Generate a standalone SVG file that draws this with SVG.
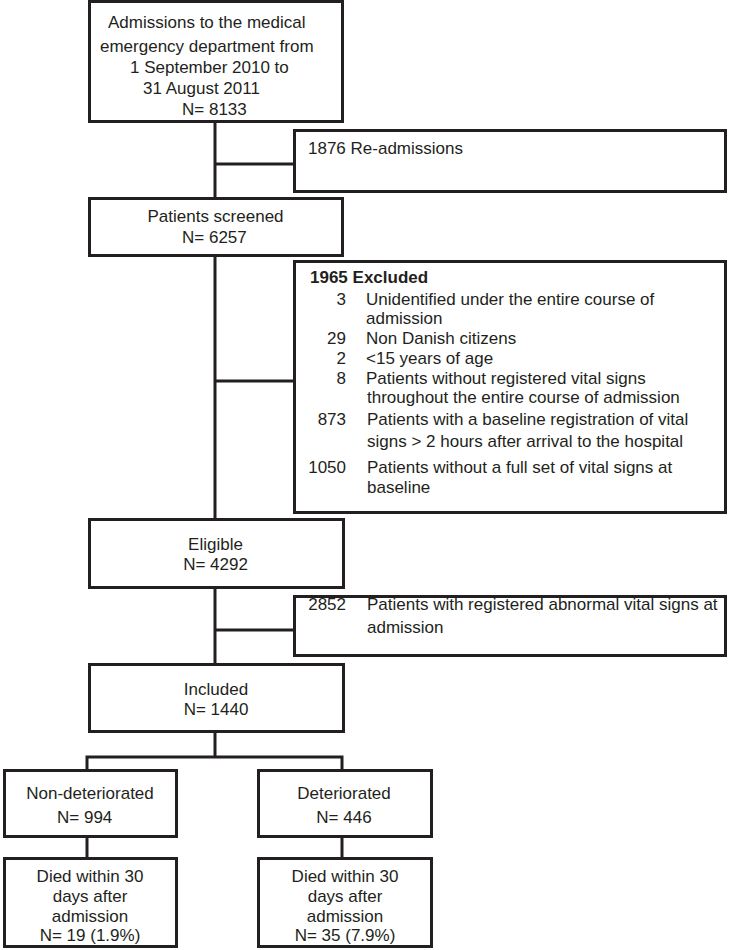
<svg xmlns="http://www.w3.org/2000/svg" width="729" height="950" viewBox="0 0 729 950">
<style>
  .box { fill: #ffffff; stroke: #231f20; stroke-width: 3; }
  .conn { fill: none; stroke: #231f20; stroke-width: 3; }
  text { font-family: "Liberation Sans", Arial, sans-serif; font-size: 17px; fill: #231f20; }
  .c { text-anchor: middle; }
  .r { text-anchor: end; }
  .b { font-weight: bold; }
</style>
<rect x="0" y="0" width="729" height="950" fill="#ffffff"/>
<g id="connectors">
  <line class="conn" x1="215" y1="122" x2="215" y2="198"/>
  <line class="conn" x1="215" y1="164" x2="294" y2="164"/>
  <line class="conn" x1="215" y1="256" x2="215" y2="519"/>
  <line class="conn" x1="215" y1="381" x2="294" y2="381"/>
  <line class="conn" x1="215" y1="588" x2="215" y2="664"/>
  <line class="conn" x1="215" y1="630" x2="294" y2="630"/>
  <line class="conn" x1="215" y1="732" x2="215" y2="757"/>
  <path class="conn" d="M87,770 V757 H342 V770"/>
  <line class="conn" x1="87" y1="837" x2="87" y2="858"/>
  <line class="conn" x1="342" y1="837" x2="342" y2="858"/>
</g>
<g id="admissions">
  <rect class="box" x="89.5" y="1.5" width="253" height="120"/>
  <text x="108" y="28">Admissions to the medical</text>
  <text x="100" y="52">emergency department from</text>
  <text x="130" y="73">1 September 2010 to</text>
  <text x="143" y="94">31 August 2011</text>
  <text x="182" y="115">N= 8133</text>
</g>
<g id="readmissions">
  <rect class="box" x="294.5" y="130.5" width="431" height="61"/>
  <text x="308" y="154">1876 Re-admissions</text>
</g>
<g id="screened">
  <rect class="box" x="89.5" y="198.5" width="253" height="57"/>
  <text class="c" x="215.5" y="222">Patients screened</text>
  <text x="182" y="243">N= 6257</text>
</g>
<g id="excluded">
  <rect class="box" x="294.5" y="261.5" width="431" height="251"/>
  <text class="b" x="310" y="283">1965 Excluded</text>
  <text class="r" x="346" y="305">3</text>
  <text x="366" y="305">Unidentified under the entire course of</text>
  <text x="366" y="324">admission</text>
  <text class="r" x="346" y="344">29</text>
  <text x="366" y="344">Non Danish citizens</text>
  <text class="r" x="346" y="364">2</text>
  <text x="366" y="364">&lt;15 years of age</text>
  <text class="r" x="346" y="384">8</text>
  <text x="366" y="384">Patients without registered vital signs</text>
  <text x="367" y="403">throughout the entire course of admission</text>
  <text class="r" x="346" y="425">873</text>
  <text x="367" y="425">Patients with a baseline registration of vital</text>
  <text x="367" y="447">signs &gt; 2 hours after arrival to the hospital</text>
  <text class="r" x="346" y="473">1050</text>
  <text x="367" y="473">Patients without a full set of vital signs at</text>
  <text x="367" y="493">baseline</text>
</g>
<g id="eligible">
  <rect class="box" x="89.5" y="519.5" width="254" height="68"/>
  <text class="c" x="215.5" y="550">Eligible</text>
  <text class="c" x="215.5" y="570">N= 4292</text>
</g>
<g id="abnormal">
  <rect class="box" x="294.5" y="596.5" width="431" height="59"/>
  <text class="r" x="346" y="610">2852</text>
  <text x="367" y="610">Patients with registered abnormal vital signs at</text>
  <text x="367" y="633">admission</text>
</g>
<g id="included">
  <rect class="box" x="89.5" y="664.5" width="254" height="67"/>
  <text class="c" x="216" y="695">Included</text>
  <text class="c" x="216" y="715">N= 1440</text>
</g>
<g id="nondeteriorated">
  <rect class="box" x="4.5" y="770.5" width="172" height="66"/>
  <text class="c" x="90" y="799">Non-deteriorated</text>
  <text x="57" y="823">N= 994</text>
</g>
<g id="deteriorated">
  <rect class="box" x="258.5" y="770.5" width="173" height="66"/>
  <text class="c" x="344" y="799">Deteriorated</text>
  <text class="c" x="344" y="823">N= 446</text>
</g>
<g id="died1">
  <rect class="box" x="4.5" y="858.5" width="172" height="88"/>
  <text class="c" x="90" y="882">Died within 30</text>
  <text class="c" x="90" y="902">days after</text>
  <text class="c" x="90" y="922">admission</text>
  <text class="c" x="90" y="941">N= 19 (1.9%)</text>
</g>
<g id="died2">
  <rect class="box" x="258.5" y="858.5" width="173" height="88"/>
  <text class="c" x="345" y="882">Died within 30</text>
  <text class="c" x="345" y="902">days after</text>
  <text class="c" x="345" y="922">admission</text>
  <text class="c" x="345" y="941">N= 35 (7.9%)</text>
</g>
</svg>
